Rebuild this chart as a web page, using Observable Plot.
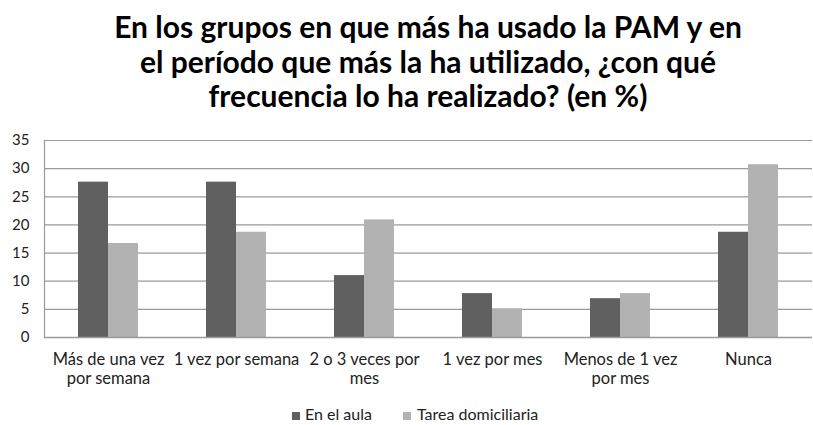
<!DOCTYPE html>
<html>
<head>
<meta charset="utf-8">
<script src="https://cdn.jsdelivr.net/npm/d3@7"></script>
<script src="https://cdn.jsdelivr.net/npm/@observablehq/plot@0.6"></script>
<style>
  body { margin: 0; background: #fff; width: 813px; height: 425px; overflow: hidden; font-family: Lato, sans-serif; position: relative; }
  #chart { position: absolute; left: 0; top: 0; }
  #title { position: absolute; left: 0; top: 9px; width: 856px; text-align: center; font-weight: bold; font-size: 30px; line-height: 34.5px; color: #000; }
  #legend { position: absolute; left: 0; top: 0; width: 813px; height: 425px; font-size: 16px; line-height: 16px; color: #222; pointer-events: none; }
  #legend .sw { position: absolute; width: 8px; height: 8px; top: 412px; }
  #legend .tx { position: absolute; top: 406px; white-space: nowrap; }
</style>
</head>
<body>
<div id="chart"></div>
<div id="title">En los grupos en que más ha usado la PAM y en<br>el período que más la ha utilizado, ¿con qué<br>frecuencia lo ha realizado? (en %)</div>
<div id="legend"></div>
<script>
const categories = ["Más de una vez por semana", "1 vez por semana", "2 o 3 veces por mes", "1 vez por mes", "Menos de 1 vez por mes", "Nunca"];
const categoryLabels = ["Más de una vez\npor semana", "1 vez por semana", "2 o 3 veces por\nmes", "1 vez por mes", "Menos de 1 vez\npor mes", "Nunca"];
const series = ["En el aula", "Tarea domiciliaria"];
const enElAula = [27.6, 27.6, 11.0, 7.8, 6.9, 18.7];
const tareaDomiciliaria = [16.7, 18.7, 20.9, 5.1, 7.8, 30.7];
const yTicks = [0, 5, 10, 15, 20, 25, 30, 35];
const colors = ["#606060", "#b2b2b2"];

const data = [];
categories.forEach((c, i) => {
  data.push({category: c, serie: series[0], value: enElAula[i]});
  data.push({category: c, serie: series[1], value: tareaDomiciliaria[i]});
});
const labelOf = new Map(categories.map((c, i) => [c, categoryLabels[i]]));

const chart = Plot.plot({
  width: 813,
  height: 425,
  marginLeft: 43,
  marginRight: 1,
  marginTop: 140,
  marginBottom: 88,
  style: {fontFamily: "Lato, sans-serif", color: "#222", background: "transparent"},
  fx: {domain: categories, padding: 0, label: null, axis: null},
  x: {domain: series, paddingInner: 0, paddingOuter: 1.065, axis: null},
  y: {domain: [0, 35], label: null, axis: null},
  color: {domain: series, range: colors},
  marks: [
    Plot.ruleY(yTicks, {stroke: "#9a9a9a", strokeWidth: 1.2}),
    Plot.barY(data, {fx: "category", x: "serie", y: "value", fill: "serie"}),
    Plot.frame({anchor: "left", facetAnchor: "left", stroke: "#9a9a9a", strokeWidth: 1.2}),
    Plot.ruleY([0], {stroke: "#9a9a9a", strokeWidth: 1.5}),
    Plot.axisY({ticks: yTicks, tickSize: 0, tickPadding: 15, fontSize: 15, label: null}),
    Plot.axisFx({anchor: "bottom", tickFormat: d => labelOf.get(d), tickSize: 0, tickPadding: 13, lineHeight: 1.2, fontSize: 16.5, label: null})
  ]
});
document.getElementById("chart").appendChild(chart);

const legend = document.getElementById("legend");
const swLeft = [292, 403];
const txLeft = [305, 417];
series.forEach((s, i) => {
  const sw = document.createElement("span");
  sw.className = "sw";
  sw.style.left = swLeft[i] + "px";
  sw.style.background = colors[i];
  const tx = document.createElement("span");
  tx.className = "tx";
  tx.style.left = txLeft[i] + "px";
  tx.textContent = s;
  legend.appendChild(sw);
  legend.appendChild(tx);
});
</script>
</body>
</html>
